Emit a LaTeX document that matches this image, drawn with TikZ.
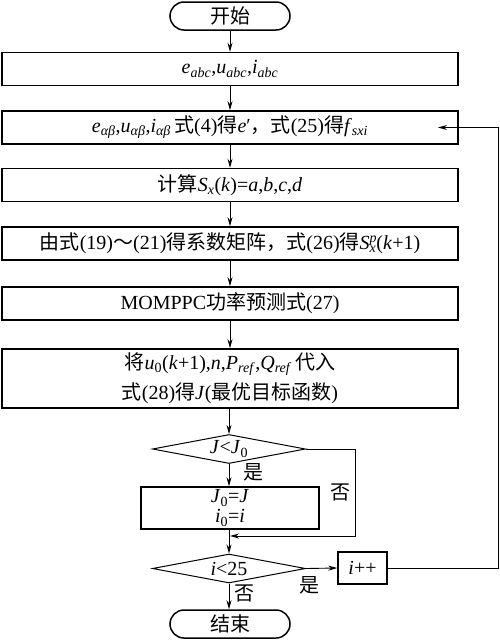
\documentclass[tikz,border=0pt]{standalone}
\usepackage{fontspec}
\setmainfont{Liberation Serif}
\newfontfamily\cjk{Noto Sans CJK SC}
\usetikzlibrary{shapes.geometric,arrows.meta}
\newcommand{\zh}[1]{{\cjk #1}}
\newcommand{\vi}[1]{\textit{#1}}
\newcommand{\sbs}[1]{\textsubscript{\textit{#1}}}
\newcommand{\sbn}[1]{\textsubscript{#1}}
\begin{document}
\begin{tikzpicture}[x=1pt,y=-1pt,
  font=\fontsize{20}{30}\selectfont,
  >={Stealth[length=9pt,width=5pt]},
  box/.style={draw,line width=1.5pt,minimum width=456pt,minimum height=33pt,inner sep=0pt},
  term/.style={draw,rounded corners=14pt,line width=1.5pt,minimum width=120pt,minimum height=28pt,inner sep=0pt},
  dia/.style={draw,diamond,line width=1pt,minimum width=153pt,minimum height=29pt,inner sep=0pt},
  conn/.style={line width=0.9pt,->},
  lin/.style={line width=0.9pt},
  lab/.style={inner sep=0pt}]
\useasboundingbox (0,0) rectangle (500,640);
\node[term] (start) at (230,16) {\zh{开始}};
\node[box] (b1) at (230,69) {\vi{e}\sbs{abc},\vi{u}\sbs{abc},\vi{i}\sbs{abc}};
\node[box] (b2) at (230,127.5) {\vi{e}\sbs{αβ},\vi{u}\sbs{αβ},\vi{i}\sbs{αβ}\,\zh{式}(4)\zh{得}\vi{e}′\zh{，式}(25)\zh{得}\vi{f}\sbs{sxi}};
\node[box] (b3) at (230,185) {\zh{计算}\vi{S}\sbs{x}(\vi{k})=\vi{a},\vi{b},\vi{c},\vi{d}};
\node[box] (b4) at (230,243.5) {\zh{由式}(19)\zh{～}(21)\zh{得系数矩阵，式}(26)\zh{得}\vi{S}\makebox[0pt][l]{\textsuperscript{\textit{p}}}\sbs{x}(\vi{k}+1)};
\node[box] (b5) at (230,303.5) {MOMPPC\zh{功率预测式}(27)};
\node[box,minimum height=59pt,align=center] (b6) at (230,378.5) {\zh{将}\vi{u}\sbn{0}(\vi{k}+1),\vi{n},\vi{P}\sbs{ref},\vi{Q}\sbs{ref}\,\zh{代入}\\\zh{式}(28)\zh{得}\vi{J}(\zh{最优目标函数})};
\node[dia,label={center:\vi{J}<\vi{J}\sbn{0}}] (d1) at (229,449) {};
\node[draw,line width=1.5pt,minimum width=178pt,minimum height=42pt,inner sep=0pt,align=center,font=\fontsize{20}{20}\selectfont] (b7) at (230,508) {\vi{J}\sbn{0}=\vi{J}\\\vi{i}\sbn{0}=\vi{i}};
\node[dia,label={center:\vi{i}<25}] (d2) at (229,568.5) {};
\node[draw,line width=1.5pt,minimum width=49pt,minimum height=32pt,inner sep=0pt] (inc) at (362.5,568) {\vi{i}++};
\node[term] (end) at (230,624) {\zh{结束}};
\coordinate (m) at (230,536);
\coordinate (fb) at (438,127.5);
\draw[conn] (start) -- (b1);
\draw[conn] (b1) -- (b2);
\draw[conn] (b2) -- (b3);
\draw[conn] (b3) -- (b4);
\draw[conn] (b4) -- (b5);
\draw[conn] (b5) -- (b6);
\draw[conn] (b6.south -| d1.north) -- (d1.north);
\draw[conn] (d1.south) -- (d1.south |- b7.north);
\draw[conn] (d1.east) -| (355,536) -- (m);
\draw[conn] (b7.south -| d2.north) -- (d2.north);
\draw[conn] (d2.east) -- (inc.west);
\draw[conn] (d2.south) -- (d2.south |- end.north);
\draw[conn] (inc.east) -| (498,127.5) -- (fb);
\node[lab] (y1) at (253,472) {\zh{是}};
\node[lab] (n1) at (340,492) {\zh{否}};
\node[lab] (y2) at (309,585) {\zh{是}};
\node[lab] (n2) at (244,593) {\zh{否}};
\end{tikzpicture}
\end{document}
